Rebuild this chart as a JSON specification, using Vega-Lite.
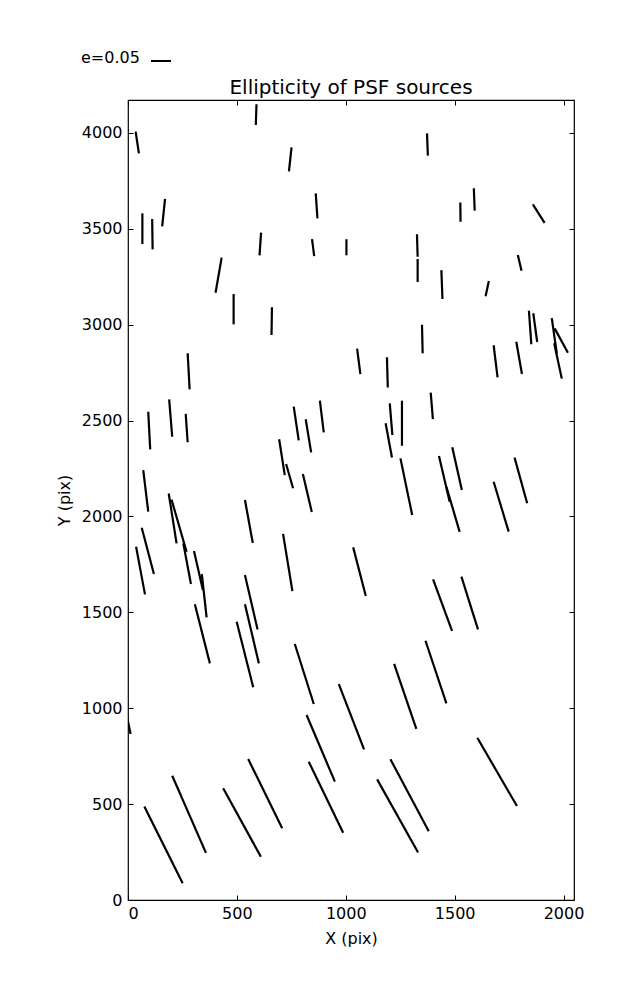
{
  "$schema": "https://vega.github.io/schema/vega-lite/v6.json",
  "width": 446,
  "height": 800,
  "autosize": {"type": "none"},
  "padding": {"left": 128, "top": 100, "right": 63, "bottom": 100},
  "background": "white",
  "title": {"text": "Ellipticity of PSF sources", "font": "DejaVu Sans", "fontSize": 20, "fontWeight": "normal", "color": "black", "offset": 6, "dy": 54},
  "config": {
    "view": {"stroke": "black", "strokeWidth": 1.2},
    "axis": {"font": "DejaVu Sans", "labelFont": "DejaVu Sans", "titleFont": "DejaVu Sans", "labelFontSize": 16, "titleFontSize": 16, "titleFontWeight": "normal", "labelColor": "black", "titleColor": "black", "tickColor": "black", "domain": false, "grid": false, "tickSize": -5, "tickWidth": 1, "format": "d"}
  },
  "data": {"values": [
    {"x1": 35, "y1": 4007, "x2": 50, "y2": 3894},
    {"x1": 590, "y1": 4150, "x2": 587, "y2": 4042},
    {"x1": 751, "y1": 3925, "x2": 739, "y2": 3800},
    {"x1": 66, "y1": 3581, "x2": 66, "y2": 3421},
    {"x1": 111, "y1": 3551, "x2": 113, "y2": 3393},
    {"x1": 170, "y1": 3656, "x2": 157, "y2": 3513},
    {"x1": 862, "y1": 3685, "x2": 870, "y2": 3555},
    {"x1": 611, "y1": 3480, "x2": 604, "y2": 3362},
    {"x1": 845, "y1": 3447, "x2": 855, "y2": 3358},
    {"x1": 1003, "y1": 3446, "x2": 1003, "y2": 3362},
    {"x1": 430, "y1": 3350, "x2": 402, "y2": 3167},
    {"x1": 485, "y1": 3160, "x2": 485, "y2": 3002},
    {"x1": 1373, "y1": 3998, "x2": 1377, "y2": 3882},
    {"x1": 1588, "y1": 3712, "x2": 1592, "y2": 3595},
    {"x1": 1526, "y1": 3638, "x2": 1527, "y2": 3537},
    {"x1": 1859, "y1": 3628, "x2": 1913, "y2": 3531},
    {"x1": 1327, "y1": 3472, "x2": 1330, "y2": 3355},
    {"x1": 1330, "y1": 3343, "x2": 1330, "y2": 3223},
    {"x1": 1439, "y1": 3285, "x2": 1444, "y2": 3134},
    {"x1": 1790, "y1": 3364, "x2": 1807, "y2": 3282},
    {"x1": 1657, "y1": 3228, "x2": 1642, "y2": 3149},
    {"x1": 661, "y1": 3091, "x2": 659, "y2": 2946},
    {"x1": 274, "y1": 2851, "x2": 283, "y2": 2663},
    {"x1": 93, "y1": 2546, "x2": 102, "y2": 2350},
    {"x1": 189, "y1": 2611, "x2": 203, "y2": 2416},
    {"x1": 265, "y1": 2535, "x2": 274, "y2": 2387},
    {"x1": 694, "y1": 2403, "x2": 720, "y2": 2216},
    {"x1": 726, "y1": 2274, "x2": 758, "y2": 2147},
    {"x1": 761, "y1": 2573, "x2": 784, "y2": 2397},
    {"x1": 816, "y1": 2507, "x2": 841, "y2": 2334},
    {"x1": 881, "y1": 2604, "x2": 899, "y2": 2439},
    {"x1": 70, "y1": 2242, "x2": 93, "y2": 2025},
    {"x1": 803, "y1": 2222, "x2": 844, "y2": 2023},
    {"x1": 1052, "y1": 2875, "x2": 1067, "y2": 2743},
    {"x1": 1189, "y1": 2830, "x2": 1193, "y2": 2673},
    {"x1": 1350, "y1": 3000, "x2": 1353, "y2": 2851},
    {"x1": 1841, "y1": 3073, "x2": 1852, "y2": 2898},
    {"x1": 1861, "y1": 3060, "x2": 1879, "y2": 2910},
    {"x1": 1946, "y1": 3034, "x2": 1969, "y2": 2851},
    {"x1": 1959, "y1": 2981, "x2": 2020, "y2": 2854},
    {"x1": 1957, "y1": 2903, "x2": 1992, "y2": 2719},
    {"x1": 1679, "y1": 2893, "x2": 1697, "y2": 2726},
    {"x1": 1783, "y1": 2911, "x2": 1809, "y2": 2743},
    {"x1": 1390, "y1": 2646, "x2": 1400, "y2": 2508},
    {"x1": 1202, "y1": 2590, "x2": 1214, "y2": 2425},
    {"x1": 1258, "y1": 2604, "x2": 1258, "y2": 2369},
    {"x1": 1183, "y1": 2486, "x2": 1212, "y2": 2308},
    {"x1": 1251, "y1": 2303, "x2": 1305, "y2": 2008},
    {"x1": 1428, "y1": 2315, "x2": 1477, "y2": 2077},
    {"x1": 1462, "y1": 2155, "x2": 1523, "y2": 1920},
    {"x1": 1489, "y1": 2361, "x2": 1533, "y2": 2138},
    {"x1": 1679, "y1": 2181, "x2": 1748, "y2": 1921},
    {"x1": 1775, "y1": 2307, "x2": 1833, "y2": 2069},
    {"x1": 537, "y1": 2086, "x2": 573, "y2": 1862},
    {"x1": 187, "y1": 2120, "x2": 223, "y2": 1860},
    {"x1": 200, "y1": 2088, "x2": 269, "y2": 1816},
    {"x1": 254, "y1": 1860, "x2": 289, "y2": 1648},
    {"x1": 303, "y1": 1820, "x2": 344, "y2": 1617},
    {"x1": 339, "y1": 1700, "x2": 361, "y2": 1474},
    {"x1": 63, "y1": 1941, "x2": 119, "y2": 1700},
    {"x1": 37, "y1": 1842, "x2": 78, "y2": 1594},
    {"x1": 537, "y1": 1695, "x2": 595, "y2": 1411},
    {"x1": 537, "y1": 1542, "x2": 601, "y2": 1234},
    {"x1": 499, "y1": 1451, "x2": 575, "y2": 1109},
    {"x1": 307, "y1": 1542, "x2": 376, "y2": 1234},
    {"x1": 712, "y1": 1909, "x2": 755, "y2": 1611},
    {"x1": 766, "y1": 1335, "x2": 853, "y2": 1022},
    {"x1": 968, "y1": 1126, "x2": 1084, "y2": 786},
    {"x1": 1034, "y1": 1839, "x2": 1092, "y2": 1585},
    {"x1": 1401, "y1": 1672, "x2": 1488, "y2": 1404},
    {"x1": 1531, "y1": 1686, "x2": 1607, "y2": 1411},
    {"x1": 1366, "y1": 1352, "x2": 1462, "y2": 1025},
    {"x1": 1222, "y1": 1231, "x2": 1324, "y2": 892},
    {"x1": 1604, "y1": 846, "x2": 1786, "y2": 490},
    {"x1": 1205, "y1": 734, "x2": 1381, "y2": 359},
    {"x1": 1144, "y1": 629, "x2": 1332, "y2": 248},
    {"x1": 820, "y1": 965, "x2": 950, "y2": 617},
    {"x1": 830, "y1": 721, "x2": 988, "y2": 351},
    {"x1": 552, "y1": 735, "x2": 708, "y2": 374},
    {"x1": 437, "y1": 583, "x2": 610, "y2": 226},
    {"x1": 203, "y1": 648, "x2": 358, "y2": 246},
    {"x1": 75, "y1": 487, "x2": 251, "y2": 87},
    {"x1": -10, "y1": 985, "x2": 12, "y2": 866}
  ]},
  "layer": [
    {
      "mark": {"type": "rule", "strokeWidth": 2.2, "clip": true, "strokeCap": "butt"},
      "encoding": {
        "x": {"field": "x1", "type": "quantitative", "scale": {"domain": [0, 2048], "nice": false, "zero": false}, "axis": {"orient": "bottom", "title": "X (pix)", "values": [0, 500, 1000, 1500, 2000], "labelPadding": 10, "titlePadding": 9}},
        "y": {"field": "y1", "type": "quantitative", "scale": {"domain": [0, 4172], "nice": false, "zero": false}, "axis": {"orient": "left", "title": "Y (pix)", "values": [0, 500, 1000, 1500, 2000, 2500, 3000, 3500, 4000], "labelPadding": 11, "titlePadding": 9}},
        "x2": {"field": "x2"},
        "y2": {"field": "y2"},
        "color": {"datum": "e=0.05", "scale": {"range": ["black"]}, "legend": {"title": "e=0.05", "titleOrient": "left", "labelExpr": "''", "symbolType": "stroke", "symbolSize": 400, "symbolStrokeWidth": 2, "symbolStrokeColor": "black", "orient": "none", "legendX": -47, "legendY": -50, "titleFont": "DejaVu Sans", "titleFontSize": 16, "titleFontWeight": "normal", "titleColor": "black", "titleBaseline": "middle", "titlePadding": 10, "padding": 0}}
      }
    },
    {
      "mark": {"type": "rule", "opacity": 0},
      "encoding": {
        "x": {"field": "x1", "type": "quantitative", "scale": {"domain": [0, 2048], "nice": false, "zero": false}, "axis": {"orient": "top", "title": null, "labels": false, "values": [0, 500, 1000, 1500, 2000]}},
        "y": {"field": "y1", "type": "quantitative", "scale": {"domain": [0, 4172], "nice": false, "zero": false}, "axis": {"orient": "right", "title": null, "labels": false, "values": [0, 500, 1000, 1500, 2000, 2500, 3000, 3500, 4000]}}
      }
    }
  ],
  "resolve": {"axis": {"x": "independent", "y": "independent"}}
}
